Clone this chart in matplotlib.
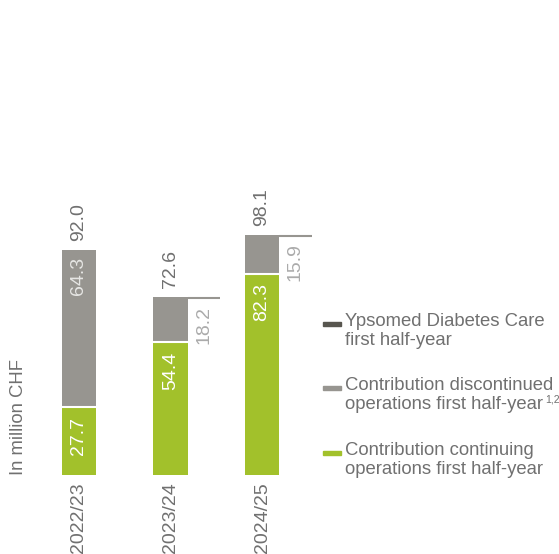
import matplotlib
matplotlib.use("Agg")
import matplotlib.pyplot as plt
from matplotlib.patches import Rectangle

plt.rcParams["font.family"] = ["Liberation Sans", "DejaVu Sans"]

years = ["2022/23", "2023/24", "2024/25"]
continuing = [27.7, 54.4, 82.3]
gray_part = [64.3, 18.2, 15.9]
totals = [92.0, 72.6, 98.1]
gray_inside = [True, False, False]

legend_labels = [
    ("Ypsomed Diabetes Care", "first half-year", ""),
    ("Contribution discontinued", "operations first half-year", "1,2"),
    ("Contribution continuing", "operations first half-year", ""),
]

green = "#a2c12b"
gray = "#979590"
dark = "#58564f"
text_gray = "#707070"
light_gray = "#ababab"

W, H = 559, 554
fig = plt.figure(figsize=(W / 100, H / 100), dpi=100)

# axes placed so bar bottom sits at y=475px, 2.446 px per CHF million
ax = fig.add_axes([33.25 / W, (H - 475) / H, 274.5 / W, 269 / H])
ax.set_xlim(-0.5, 2.5)
ax.set_ylim(0, 110)
ax.axis("off")

bw = 0.372
ext = 0.36
x = list(range(len(years)))

ax.bar(x, continuing, width=bw, color=green, linewidth=0)
ax.bar(x, gray_part, width=bw, bottom=continuing, color=gray, linewidth=0)
# white gap between segments
ax.hlines(continuing, [i - bw / 2 for i in x], [i + bw / 2 for i in x], color="white", lw=1.5)

for i in x:
    ax.annotate(years[i], (i, 0), xytext=(0, -5.5), textcoords="offset points",
                rotation=90, ha="center", va="top", fontsize=14, color=text_gray)
    ax.annotate(f"{totals[i]:.1f}", (i, totals[i]), xytext=(0, 6.5), textcoords="offset points",
                rotation=90, ha="center", va="bottom", fontsize=14, color=text_gray)
    ax.annotate(f"{continuing[i]:.1f}", (i, continuing[i]), xytext=(0, -7), textcoords="offset points",
                rotation=90, ha="center", va="top", fontsize=14, color="white")
    if gray_inside[i]:
        ax.annotate(f"{gray_part[i]:.1f}", (i, totals[i]), xytext=(0, -5), textcoords="offset points",
                    rotation=90, ha="center", va="top", fontsize=14, color="#e6e6e4")
    else:
        x0 = i + bw / 2
        ax.plot([x0, x0 + ext], [totals[i] - 0.4, totals[i] - 0.4], color=gray, lw=1.5,
                solid_capstyle="butt", clip_on=False)
        ax.annotate(f"{gray_part[i]:.1f}", (x0 + ext / 2, totals[i]), xytext=(0, -6), textcoords="offset points",
                    rotation=90, ha="center", va="top", fontsize=14, color=light_gray)

fig.text(10 / W, (H - 475) / H, "In million CHF", rotation=90, ha="left", va="bottom",
         fontsize=13.3, color=text_gray)

# legend
leg_colors = [dark, gray, green]
baselines = [326, 390, 455]
fig.canvas.draw()
renderer = fig.canvas.get_renderer()
for (l1, l2, sup), c, b in zip(legend_labels, leg_colors, baselines):
    fig.patches.append(Rectangle((323 / W, (H - b) / H), 18 / W, 4 / H, color=c,
                                 transform=fig.transFigure, figure=fig))
    fig.text(345 / W, (H - b) / H, l1, ha="left", va="baseline", fontsize=13.3, color=text_gray)
    t2 = fig.text(345 / W, (H - b - 19) / H, l2, ha="left", va="baseline", fontsize=13.3, color=text_gray)
    if sup:
        bb = t2.get_window_extent(renderer)
        fig.text(bb.x1 / W + 2 / W, (H - b - 19 + 7) / H, sup, ha="left", va="baseline",
                 fontsize=7.5, color=text_gray)

fig.savefig("out.png", dpi=100)
